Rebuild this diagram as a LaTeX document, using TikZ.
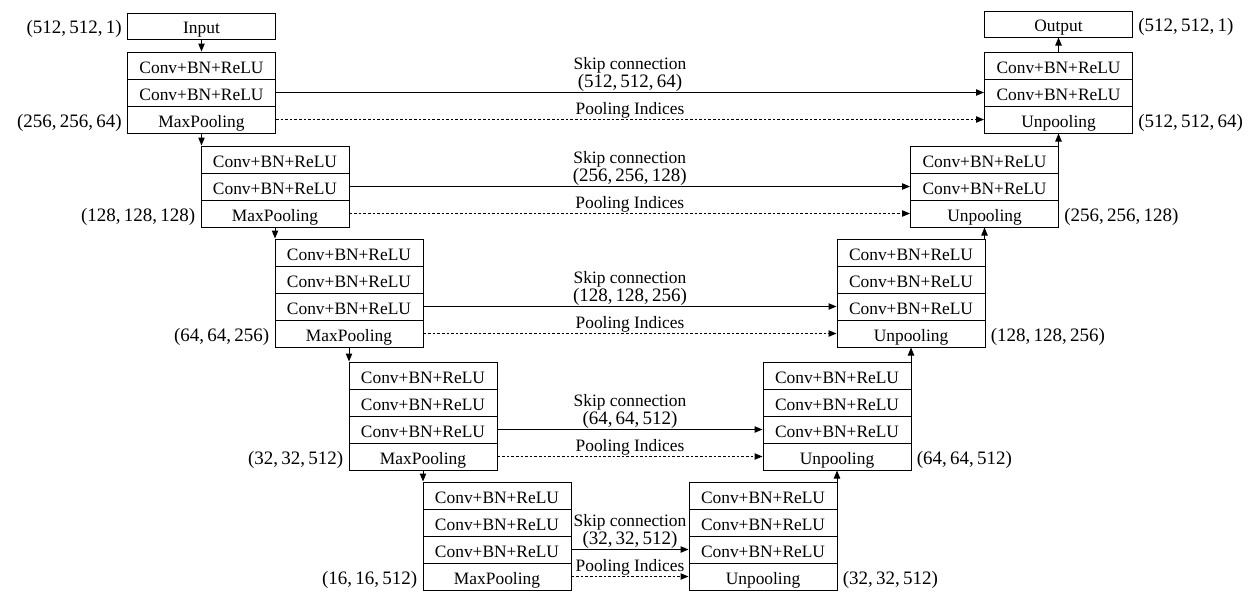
\documentclass[tikz,border=0pt]{standalone}
\usepackage{fontspec}
\setmainfont{Liberation Serif}
\usetikzlibrary{arrows.meta}
\newcommand{\lblfont}{\fontsize{8.7}{10.5}\selectfont}
\newcommand{\tplfont}{\fontsize{9.5}{11}\selectfont}
\tikzset{
  rowbox/.style={draw, line width=0.5pt, minimum width=74pt, minimum height=13.5pt, inner sep=0pt, font=\lblfont, text height=7.5pt, text depth=0pt},
  flow/.style={line width=0.5pt, -{Triangle[length=4pt,width=3.2pt]}},
  skipline/.style={line width=0.5pt, -{Triangle[length=4pt,width=3.2pt]}},
  poolline/.style={line width=0.5pt, dash pattern=on 1.3pt off 1pt, -{Triangle[length=4pt,width=3.2pt]}},
  tupleL/.style={anchor=east, inner sep=2.5pt, font=\tplfont, text height=7.5pt, text depth=0pt},
  tupleR/.style={anchor=west, inner sep=2.5pt, font=\tplfont, text height=7.5pt, text depth=0pt},
  midlbl/.style={font=\lblfont, inner sep=0pt},
  midtpl/.style={font=\tplfont, inner sep=0pt}
}
\newcommand{\cbr}{Conv+BN+ReLU}
\begin{document}
\begin{tikzpicture}[x=0.5pt,y=-0.5pt]
\useasboundingbox (0,0) rectangle (1256,600);
% Input / Output
\node[rowbox, minimum height=13pt] (in) at (201.5,26) {Input};
\node[rowbox, minimum height=13pt] (out) at (1058.5,24) {Output};
% Encoder
\node[rowbox] (e1a) at (201.5,65.5) {\cbr};
\node[rowbox] (e1b) at (201.5,92.5) {\cbr};
\node[rowbox] (e1c) at (201.5,119.5) {MaxPooling};
\node[rowbox] (e2a) at (275,159.5) {\cbr};
\node[rowbox] (e2b) at (275,186.5) {\cbr};
\node[rowbox] (e2c) at (275,213.5) {MaxPooling};
\node[rowbox] (e3a) at (349,252.5) {\cbr};
\node[rowbox] (e3b) at (349,279.5) {\cbr};
\node[rowbox] (e3c) at (349,306.5) {\cbr};
\node[rowbox] (e3d) at (349,333.5) {MaxPooling};
\node[rowbox] (e4a) at (423,375.5) {\cbr};
\node[rowbox] (e4b) at (423,402.5) {\cbr};
\node[rowbox] (e4c) at (423,429.5) {\cbr};
\node[rowbox] (e4d) at (423,456.5) {MaxPooling};
\node[rowbox] (e5a) at (497,495.5) {\cbr};
\node[rowbox] (e5b) at (497,522.5) {\cbr};
\node[rowbox] (e5c) at (497,549.5) {\cbr};
\node[rowbox] (e5d) at (497,576.5) {MaxPooling};
% Decoder
\node[rowbox] (d1a) at (1058.5,65.5) {\cbr};
\node[rowbox] (d1b) at (1058.5,92.5) {\cbr};
\node[rowbox] (d1c) at (1058.5,119.5) {Unpooling};
\node[rowbox] (d2a) at (984.5,159.5) {\cbr};
\node[rowbox] (d2b) at (984.5,186.5) {\cbr};
\node[rowbox] (d2c) at (984.5,213.5) {Unpooling};
\node[rowbox] (d3a) at (911,252.5) {\cbr};
\node[rowbox] (d3b) at (911,279.5) {\cbr};
\node[rowbox] (d3c) at (911,306.5) {\cbr};
\node[rowbox] (d3d) at (911,333.5) {Unpooling};
\node[rowbox] (d4a) at (837,375.5) {\cbr};
\node[rowbox] (d4b) at (837,402.5) {\cbr};
\node[rowbox] (d4c) at (837,429.5) {\cbr};
\node[rowbox] (d4d) at (837,456.5) {Unpooling};
\node[rowbox] (d5a) at (763,495.5) {\cbr};
\node[rowbox] (d5b) at (763,522.5) {\cbr};
\node[rowbox] (d5c) at (763,549.5) {\cbr};
\node[rowbox] (d5d) at (763,576.5) {Unpooling};
% Size labels
\node[tupleL] (tin) at (in.west) {(512,\,512,\,1)};
\node[tupleL] (t1) at (e1c.west) {(256,\,256,\,64)};
\node[tupleL] (t2) at (e2c.west) {(128,\,128,\,128)};
\node[tupleL] (t3) at (e3d.west) {(64,\,64,\,256)};
\node[tupleL] (t4) at (e4d.west) {(32,\,32,\,512)};
\node[tupleL] (t5) at (e5d.west) {(16,\,16,\,512)};
\node[tupleR] (tout) at (out.east) {(512,\,512,\,1)};
\node[tupleR] (u1) at (d1c.east) {(512,\,512,\,64)};
\node[tupleR] (u2) at (d2c.east) {(256,\,256,\,128)};
\node[tupleR] (u3) at (d3d.east) {(128,\,128,\,256)};
\node[tupleR] (u4) at (d4d.east) {(64,\,64,\,512)};
\node[tupleR] (u5) at (d5d.east) {(32,\,32,\,512)};
% Encoder flow
\draw[flow] (in.south) -- (e1a.north);
\draw[flow] (e1c.south) -- (e1c.south |- e2a.north);
\draw[flow] (e2c.south) -- (e2c.south |- e3a.north);
\draw[flow] (e3d.south) -- (e3d.south |- e4a.north);
\draw[flow] (e4d.south) -- (e4d.south |- e5a.north);
% Decoder flow
\draw[flow] (d4d.south |- d5a.north) -- (d4d.south);
\draw[flow] (d3d.south |- d4a.north) -- (d3d.south);
\draw[flow] (d2c.south |- d3a.north) -- (d2c.south);
\draw[flow] (d1c.south |- d2a.north) -- (d1c.south);
\draw[flow] (d1a.north) -- (out.south);
% Skip connections
\draw[skipline] (e1b.east) -- (d1b.west)
  node[midlbl, midway, yshift=13.8pt] {Skip connection}
  node[midtpl, midway, yshift=4.6pt] {(512,\,512,\,64)};
\draw[skipline] (e2b.east) -- (d2b.west)
  node[midlbl, midway, yshift=13.8pt] {Skip connection}
  node[midtpl, midway, yshift=4.6pt] {(256,\,256,\,128)};
\draw[skipline] (e3c.east) -- (d3c.west)
  node[midlbl, midway, yshift=13.8pt] {Skip connection}
  node[midtpl, midway, yshift=4.6pt] {(128,\,128,\,256)};
\draw[skipline] (e4c.east) -- (d4c.west)
  node[midlbl, midway, yshift=13.8pt] {Skip connection}
  node[midtpl, midway, yshift=4.6pt] {(64,\,64,\,512)};
\draw[skipline] (e5c.east) -- (d5c.west)
  node[midlbl, midway, yshift=13.8pt] {Skip connection}
  node[midtpl, midway, yshift=4.6pt] {(32,\,32,\,512)};
% Pooling indices
\draw[poolline] (e1c.east) -- (d1c.west) node[midlbl, midway, yshift=4.6pt] {Pooling Indices};
\draw[poolline] (e2c.east) -- (d2c.west) node[midlbl, midway, yshift=4.6pt] {Pooling Indices};
\draw[poolline] (e3d.east) -- (d3d.west) node[midlbl, midway, yshift=4.6pt] {Pooling Indices};
\draw[poolline] (e4d.east) -- (d4d.west) node[midlbl, midway, yshift=4.6pt] {Pooling Indices};
\draw[poolline] (e5d.east) -- (d5d.west) node[midlbl, midway, yshift=4.6pt] {Pooling Indices};
\end{tikzpicture}
\end{document}
